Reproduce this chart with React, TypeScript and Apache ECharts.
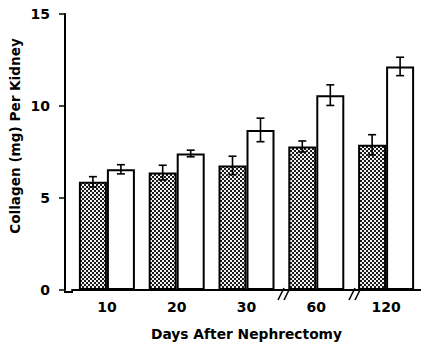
import React, { useEffect, useRef } from "react";
import * as echarts from "echarts";

const categories = ["10", "20", "30", "60", "120"];
const hatchedMeans = [5.88, 6.38, 6.77, 7.8, 7.89];
const hatchedErrs = [0.28, 0.4, 0.5, 0.3, 0.55];
const whiteMeans = [6.56, 7.42, 8.7, 10.59, 12.15];
const whiteErrs = [0.25, 0.18, 0.64, 0.56, 0.5];
const yTicks = { min: 0, max: 15, interval: 5 };

const FONT = "DejaVu Sans";

function makePattern(): HTMLCanvasElement {
  const c = document.createElement("canvas");
  c.width = 4;
  c.height = 4;
  const ctx = c.getContext("2d")!;
  ctx.fillStyle = "#f2f2f2";
  ctx.fillRect(0, 0, 4, 4);
  ctx.fillStyle = "#1a1a1a";
  ctx.fillRect(0, 0, 2, 2);
  ctx.fillRect(2, 2, 2, 2);
  return c;
}

function errSeries(means: number[], errs: number[], dx: number) {
  return {
    type: "custom",
    z: 10,
    silent: true,
    encode: { x: 0, y: 1 },
    data: means.map((m, i) => [i, m, errs[i]]),
    renderItem: (_params: any, api: any) => {
      const i = api.value(0);
      const m = api.value(1);
      const e = api.value(2);
      const top = api.coord([i, m + e]);
      const bot = api.coord([i, m - e]);
      const x = top[0] + dx;
      const hw = 4;
      const st = { stroke: "#000", lineWidth: 1.6 };
      return {
        type: "group",
        children: [
          { type: "line", shape: { x1: x, y1: top[1], x2: x, y2: bot[1] }, style: st },
          { type: "line", shape: { x1: x - hw, y1: top[1], x2: x + hw, y2: top[1] }, style: st },
          { type: "line", shape: { x1: x - hw, y1: bot[1], x2: x + hw, y2: bot[1] }, style: st },
        ],
      };
    },
  };
}

export default function App() {
  const ref = useRef<HTMLDivElement>(null);
  useEffect(() => {
    document.body.style.margin = "0";
    const chart = echarts.init(ref.current!, null, { renderer: "svg" });
    const pattern = makePattern();
    const breakStyle = { stroke: "#000", lineWidth: 1.6 };
    const slash = (cx: number, cy: number) => ({
      type: "line",
      z: 20,
      shape: { x1: cx - 3, y1: cy + 6, x2: cx + 3, y2: cy - 6 },
      style: breakStyle,
    });
    chart.setOption({
      animation: false,
      backgroundColor: "#fff",
      grid: { left: 72, top: 14, width: 358, height: 278 },
      xAxis: {
        type: "category",
        data: categories,
        axisLine: { lineStyle: { color: "#000", width: 2 } },
        axisTick: { show: false },
        axisLabel: {
          color: "#000",
          fontFamily: FONT,
          fontWeight: "bold",
          fontSize: 14,
          margin: 10,
        },
        name: "Days After Nephrectomy",
        nameLocation: "middle",
        nameGap: 37,
        nameTextStyle: {
          color: "#000",
          fontFamily: FONT,
          fontWeight: "bold",
          fontSize: 13.8,
        },
      },
      yAxis: {
        type: "value",
        min: yTicks.min,
        max: yTicks.max,
        interval: yTicks.interval,
        offset: 7,
        splitLine: { show: false },
        axisLine: { show: true, lineStyle: { color: "#000", width: 2 } },
        axisTick: { show: true, length: 6, lineStyle: { color: "#000", width: 1.5 } },
        axisLabel: {
          color: "#000",
          fontFamily: FONT,
          fontWeight: "bold",
          fontSize: 14,
          margin: 15,
        },
      },
      graphic: [
        {
          type: "line",
          shape: { x1: 64, y1: 292, x2: 73, y2: 292 },
          style: { stroke: "#000", lineWidth: 2 },
        },
        slash(281, 294),
        slash(287, 294),
        slash(352, 294),
        slash(358, 294),
        {
          type: "text",
          x: 15,
          y: 136,
          rotation: Math.PI / 2,
          style: {
            text: "Collagen (mg) Per Kidney",
            fill: "#000",
            font: `bold 13.6px "${FONT}"`,
            align: "center",
            verticalAlign: "middle",
          },
        },
      ],
      series: [
        {
          type: "bar",
          data: hatchedMeans,
          barWidth: 28,
          barGap: "0%",
          itemStyle: {
            color: { image: pattern, repeat: "repeat" },
            borderColor: "#000",
            borderWidth: 2,
          },
        },
        {
          type: "bar",
          data: whiteMeans,
          barWidth: 28,
          barGap: "0%",
          itemStyle: { color: "#fff", borderColor: "#000", borderWidth: 2 },
        },
        errSeries(hatchedMeans, hatchedErrs, -14),
        errSeries(whiteMeans, whiteErrs, 14),
      ],
    });
    return () => chart.dispose();
  }, []);
  return <div ref={ref} style={{ width: 421, height: 346 }} />;
}
